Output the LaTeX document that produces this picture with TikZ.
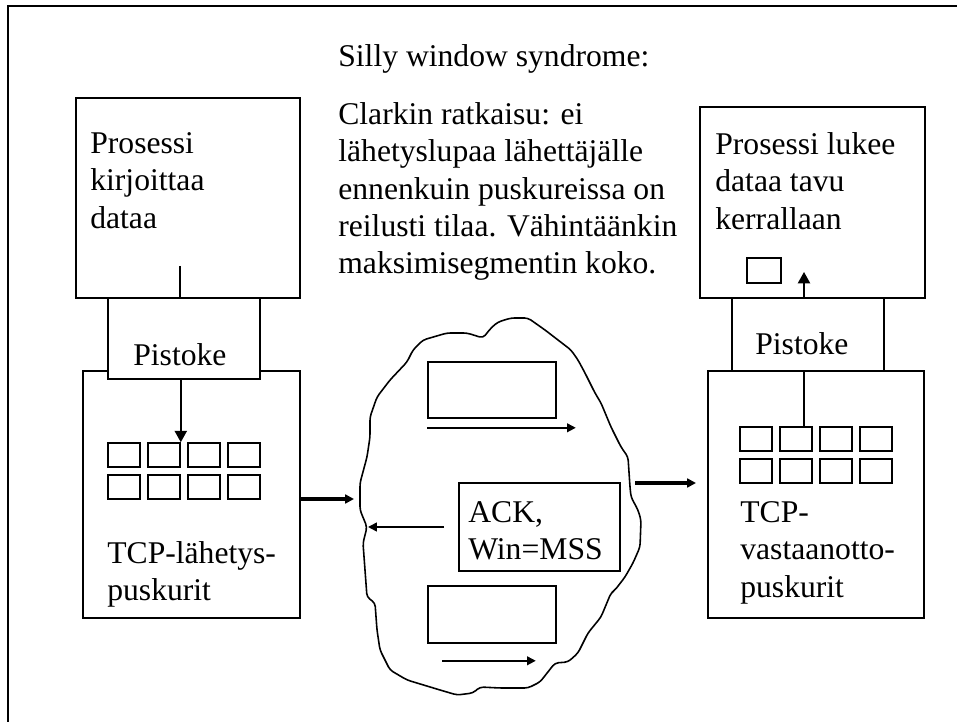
\documentclass[tikz,border=0pt]{standalone}
\usepackage{fontspec}
\setmainfont{Liberation Serif}
\usetikzlibrary{positioning, arrows.meta}
\newdimen\pxu \pxu=0.02cm

\begin{document}
\begin{tikzpicture}[x=0.02cm, y=-0.02cm]
	% Styles
	\tikzset{
		box/.style={draw, line width=0.9pt, fill=white, inner sep=0},
		txt/.style={anchor=north west, inner sep=0, align=left, font=\fontsize{18}{21.3}\selectfont},
		cell/.style={draw, line width=0.9pt, minimum width=32\pxu, minimum height=24\pxu, inner sep=0},
		arrow/.style={-{Triangle[length=5pt, width=5pt]}, line width=0.9pt},
		bigarrow/.style={-{Triangle[length=6.5pt, width=7pt]}, line width=0.9pt},
		thickarrow/.style={-{Triangle[length=5pt, width=5pt]}, line width=1.8pt}
	}
	\useasboundingbox (0,0) rectangle (957,722);
	
	% Outer frame (cut off at right and bottom)
	\draw[line width=0.9pt] (8,760) -- (8,6) -- (980,6);
	
	% Heading and note
	\node[txt] (Title) at (338,44) {Silly window syndrome:};
	\node[txt] (Note) at (338,102) {Clarkin ratkaisu: ei\\lähetyslupaa lähettäjälle\\ennenkuin puskureissa on\\reilusti tilaa. Vähintäänkin\\maksimisegmentin koko.};
	
	% Sender side
	\node[box, minimum width=224\pxu, minimum height=200\pxu] (procL) at (188,198) {};
	\node[txt] (procLtext) at (90,132) {Prosessi\\kirjoittaa\\dataa};
	\node[box, minimum width=217\pxu, minimum height=247\pxu] (tcpL) at (191.5,494.5) {};
	\node[box, minimum width=152\pxu, minimum height=81\pxu] (sockL) at (184,338.5) {};
	\node[txt] (sockLtext) at (133,343) {Pistoke};
	\node[txt] (tcpLtext) at (107,541) {TCP-lähetys-\\puskurit};
	\foreach \i in {1,...,4} {
		\node[cell] (cL\i) at ({84+40*\i},455) {};
		\node[cell] (dL\i) at ({84+40*\i},487) {};
	}
	\coordinate (writeL) at (180,266);
	\draw[line width=0.9pt] (writeL) -- (writeL |- procL.south);
	\draw[bigarrow] (sockL.south -| cL2.north east) -- (cL2.north east);
	
	% Network cloud
	\draw[line width=0.9pt, rounded corners=2pt] (483,338) -- (491,328) -- (498,322) -- (511,318) -- (528,318) -- (545,330) -- (558,340) -- (571,350) -- (578,360) -- (585,373) -- (595,393) -- (601,403) -- (611,427) -- (621,447) -- (628,457) -- (630,487) -- (631,497) -- (638,510) -- (641,520) -- (640,547) -- (633,563) -- (625,577) -- (615,590) -- (611,593) -- (601,617) -- (588,633) -- (578,653) -- (568,662) -- (555,663) -- (540,682) -- (528,688) -- (500,688) -- (480,687) -- (473,693) -- (457,695) -- (440,690) -- (407,680) -- (390,670) -- (380,650) -- (377,630) -- (375,603) -- (367,597) -- (365,570) -- (363,543) -- (367,527) -- (360,510) -- (360,483) -- (367,457) -- (370,437) -- (370,417) -- (377,397) -- (390,380) -- (407,362) -- (413,350) -- (423,340) -- (447,333) -- (467,333) -- cycle;
	\node[box, minimum width=128\pxu, minimum height=56\pxu] (pktA) at (492,390) {};
	\draw[arrow] ([yshift=-9\pxu]pktA.south west) -- ([xshift=19\pxu, yshift=-9\pxu]pktA.south east);
	\node[box, minimum width=161\pxu, minimum height=88\pxu] (ack) at (539.5,527) {};
	\node[txt] (ackText) at (468,501) {ACK,\\Win=MSS};
	\coordinate (ackEdge) at (368,527);
	\draw[arrow] ([xshift=-14\pxu]ack.west) -- (ackEdge);
	\node[box, minimum width=128\pxu, minimum height=57\pxu] (pktB) at (492,614.5) {};
	\draw[arrow] ([xshift=15\pxu, yshift=-17\pxu]pktB.south west) -- ([xshift=-21\pxu, yshift=-17\pxu]pktB.south east);
	
	% Arrows into and out of the cloud
	\coordinate (netL) at (354,499);
	\draw[thickarrow] (tcpL.east |- netL) -- (netL);
	\coordinate (netR) at (635,483);
	\coordinate (inR) at (696,483);
	\draw[thickarrow] (netR) -- (inR);
	
	% Receiver side
	\node[box, minimum width=225\pxu, minimum height=191\pxu] (procR) at (812.5,202.5) {};
	\node[txt] (procRtext) at (715,132) {Prosessi lukee\\dataa tavu\\kerrallaan};
	\node[box, minimum width=34\pxu, minimum height=25\pxu] (byteR) at (764,270.5) {};
	\node[box, minimum width=216\pxu, minimum height=247\pxu] (tcpR) at (816,494.5) {};
	\node[box, minimum width=152\pxu, minimum height=73\pxu] (sockR) at (808,334.5) {};
	\node[txt] (sockRtext) at (755,332) {Pistoke};
	\node[txt] (tcpRtext) at (740,501) {TCP-\\vastaanotto-\\puskurit};
	\foreach \i in {1,...,4} {
		\node[cell] (cR\i) at ({716+40*\i},439) {};
		\node[cell] (dR\i) at ({716+40*\i},471) {};
	}
	\coordinate (readR) at (804,272);
	\draw[line width=0.9pt] (tcpR.north -| readR) -- (cR2.north -| readR);
	\draw[bigarrow] (procR.south -| readR) -- (readR);
	
\end{tikzpicture}
\end{document}
